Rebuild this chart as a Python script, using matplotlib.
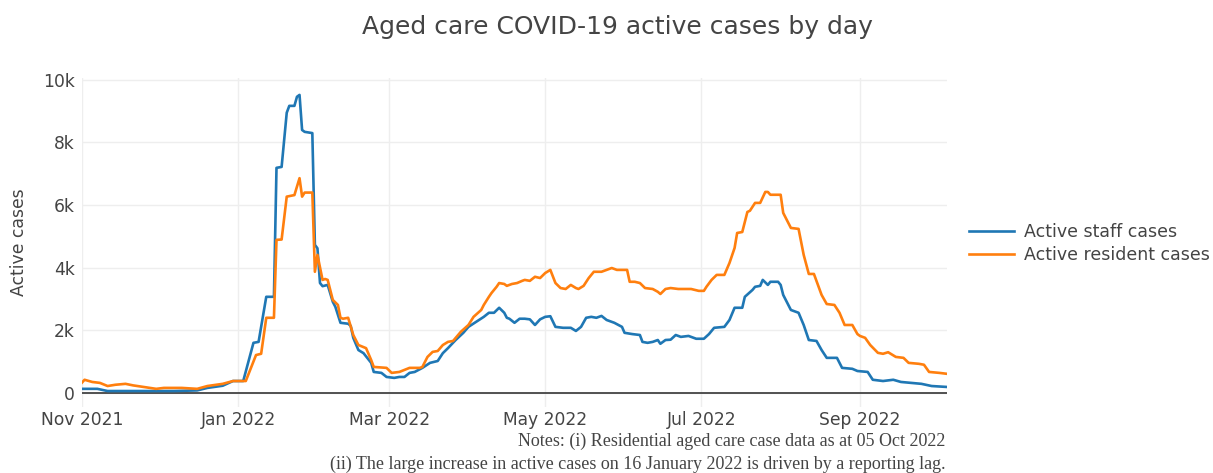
import matplotlib
matplotlib.use("Agg")
import matplotlib.pyplot as plt
import pandas as pd

title = "Aged care COVID-19 active cases by day"
ylabel = "Active cases"
staff_label = "Active staff cases"
resident_label = "Active resident cases"
notes = ["Notes: (i) Residential aged care case data as at 05 Oct 2022",
         "(ii) The large increase in active cases on 16 January 2022 is driven by a reporting lag."]

staff_dates = ["2021-11-01", "2021-11-07", "2021-11-11", "2021-12-07", "2021-12-16", "2021-12-20",
               "2021-12-26", "2021-12-30", "2022-01-03", "2022-01-07", "2022-01-09", "2022-01-12",
               "2022-01-15", "2022-01-16", "2022-01-18", "2022-01-20", "2022-01-21", "2022-01-23",
               "2022-01-24", "2022-01-25", "2022-01-26", "2022-01-27", "2022-01-30", "2022-01-31",
               "2022-02-01", "2022-02-02", "2022-02-03", "2022-02-05", "2022-02-07", "2022-02-08",
               "2022-02-10", "2022-02-13", "2022-02-14", "2022-02-15", "2022-02-17", "2022-02-19",
               "2022-02-22", "2022-02-23", "2022-02-26", "2022-02-28", "2022-03-03", "2022-03-05",
               "2022-03-07", "2022-03-09", "2022-03-11", "2022-03-14", "2022-03-17", "2022-03-20",
               "2022-03-22", "2022-03-24", "2022-03-27", "2022-03-30", "2022-04-01", "2022-04-04",
               "2022-04-07", "2022-04-09", "2022-04-11", "2022-04-13", "2022-04-15", "2022-04-16",
               "2022-04-17", "2022-04-19", "2022-04-21", "2022-04-23", "2022-04-25", "2022-04-27",
               "2022-04-29", "2022-05-01", "2022-05-03", "2022-05-05", "2022-05-08", "2022-05-11",
               "2022-05-13", "2022-05-15", "2022-05-17", "2022-05-19", "2022-05-21", "2022-05-23",
               "2022-05-25", "2022-05-28", "2022-05-31", "2022-06-01", "2022-06-04", "2022-06-07",
               "2022-06-08", "2022-06-10", "2022-06-12", "2022-06-14", "2022-06-15", "2022-06-17",
               "2022-06-19", "2022-06-21", "2022-06-23", "2022-06-26", "2022-06-29", "2022-07-02",
               "2022-07-04", "2022-07-06", "2022-07-10", "2022-07-12", "2022-07-14", "2022-07-17",
               "2022-07-18", "2022-07-21", "2022-07-22", "2022-07-24", "2022-07-25", "2022-07-27",
               "2022-07-28", "2022-07-31", "2022-08-01", "2022-08-02", "2022-08-05", "2022-08-08",
               "2022-08-10", "2022-08-12", "2022-08-15", "2022-08-17", "2022-08-19", "2022-08-23",
               "2022-08-25", "2022-08-29", "2022-08-31", "2022-09-04", "2022-09-06", "2022-09-10",
               "2022-09-14", "2022-09-17", "2022-09-21", "2022-09-25", "2022-09-29", "2022-10-05"]
staff_values = [130, 130, 60, 60, 80, 160,
                230, 380, 380, 1600, 1630, 3070,
                3070, 7190, 7220, 8950, 9170, 9170,
                9460, 9520, 8400, 8340, 8300, 4730,
                4620, 3510, 3410, 3450, 2910, 2750,
                2240, 2210, 2140, 1760, 1370, 1270,
                960, 670, 640, 510, 480, 510,
                510, 640, 670, 800, 960, 1020,
                1270, 1430, 1690, 1920, 2110, 2270,
                2430, 2560, 2560, 2720, 2560, 2400,
                2370, 2240, 2370, 2370, 2350, 2170,
                2350, 2430, 2450, 2110, 2080, 2080,
                1980, 2110, 2400, 2430, 2400, 2460,
                2330, 2240, 2110, 1920, 1880, 1850,
                1630, 1600, 1630, 1690, 1570, 1690,
                1700, 1850, 1790, 1820, 1730, 1730,
                1880, 2080, 2110, 2330, 2720, 2720,
                3070, 3290, 3390, 3420, 3610, 3450,
                3550, 3550, 3450, 3130, 2650, 2560,
                2170, 1690, 1660, 1370, 1120, 1120,
                800, 770, 700, 670, 420, 380,
                420, 350, 320, 290, 220, 190]

resident_dates = ["2021-11-01", "2021-11-02", "2021-11-05", "2021-11-08", "2021-11-11", "2021-11-14",
                  "2021-11-18", "2021-11-21", "2021-11-25", "2021-11-30", "2021-12-03", "2021-12-10",
                  "2021-12-16", "2021-12-20", "2021-12-26", "2021-12-30", "2022-01-04", "2022-01-08",
                  "2022-01-10", "2022-01-12", "2022-01-15", "2022-01-16", "2022-01-18", "2022-01-20",
                  "2022-01-23", "2022-01-25", "2022-01-26", "2022-01-27", "2022-01-30", "2022-01-31",
                  "2022-02-01", "2022-02-03", "2022-02-04", "2022-02-05", "2022-02-07", "2022-02-09",
                  "2022-02-10", "2022-02-11", "2022-02-13", "2022-02-15", "2022-02-17", "2022-02-20",
                  "2022-02-22", "2022-02-23", "2022-02-28", "2022-03-02", "2022-03-05", "2022-03-09",
                  "2022-03-13", "2022-03-14", "2022-03-16", "2022-03-18", "2022-03-20", "2022-03-22",
                  "2022-03-24", "2022-03-26", "2022-03-29", "2022-04-01", "2022-04-03", "2022-04-06",
                  "2022-04-07", "2022-04-09", "2022-04-10", "2022-04-12", "2022-04-13", "2022-04-15",
                  "2022-04-16", "2022-04-18", "2022-04-20", "2022-04-22", "2022-04-23", "2022-04-25",
                  "2022-04-27", "2022-04-29", "2022-05-01", "2022-05-03", "2022-05-05", "2022-05-07",
                  "2022-05-09", "2022-05-11", "2022-05-13", "2022-05-14", "2022-05-16", "2022-05-18",
                  "2022-05-20", "2022-05-23", "2022-05-25", "2022-05-27", "2022-05-29", "2022-05-31",
                  "2022-06-02", "2022-06-03", "2022-06-05", "2022-06-07", "2022-06-09", "2022-06-12",
                  "2022-06-14", "2022-06-15", "2022-06-17", "2022-06-19", "2022-06-22", "2022-06-27",
                  "2022-06-30", "2022-07-02", "2022-07-03", "2022-07-05", "2022-07-07", "2022-07-10",
                  "2022-07-12", "2022-07-14", "2022-07-15", "2022-07-17", "2022-07-19", "2022-07-20",
                  "2022-07-22", "2022-07-24", "2022-07-26", "2022-07-27", "2022-07-28", "2022-08-01",
                  "2022-08-02", "2022-08-05", "2022-08-08", "2022-08-10", "2022-08-12", "2022-08-14",
                  "2022-08-17", "2022-08-19", "2022-08-22", "2022-08-24", "2022-08-26", "2022-08-29",
                  "2022-08-31", "2022-09-01", "2022-09-03", "2022-09-05", "2022-09-08", "2022-09-10",
                  "2022-09-12", "2022-09-15", "2022-09-18", "2022-09-20", "2022-09-24", "2022-09-26",
                  "2022-09-28", "2022-10-02", "2022-10-05"]
resident_values = [330, 420, 350, 320, 220, 260,
                   290, 240, 190, 130, 160, 160,
                   130, 220, 290, 380, 380, 1210,
                   1250, 2400, 2400, 4890, 4900, 6270,
                   6320, 6860, 6270, 6400, 6400, 3870,
                   4410, 3610, 3640, 3610, 2970, 2810,
                   2400, 2370, 2400, 1850, 1530, 1430,
                   1050, 830, 800, 640, 670, 800,
                   800, 830, 1150, 1310, 1340, 1530,
                   1630, 1660, 1950, 2170, 2430, 2650,
                   2810, 3070, 3190, 3390, 3510, 3480,
                   3420, 3480, 3510, 3580, 3610, 3580,
                   3710, 3670, 3830, 3930, 3510, 3350,
                   3320, 3450, 3350, 3320, 3420, 3670,
                   3870, 3870, 3930, 3990, 3930, 3930,
                   3930, 3550, 3550, 3510, 3350, 3320,
                   3230, 3160, 3320, 3350, 3320, 3320,
                   3260, 3260, 3390, 3610, 3770, 3770,
                   4150, 4630, 5110, 5140, 5780, 5820,
                   6070, 6070, 6420, 6420, 6330, 6330,
                   5750, 5270, 5240, 4410, 3800, 3800,
                   3130, 2840, 2810, 2560, 2170, 2170,
                   1880, 1820, 1760, 1530, 1280, 1250,
                   1300, 1150, 1120, 960, 930, 900,
                   670, 640, 610]

y_ticks = [0, 2000, 4000, 6000, 8000, 10000]
y_tick_labels = ["0", "2k", "4k", "6k", "8k", "10k"]
x_ticks = ["2021-11-01", "2022-01-01", "2022-03-01", "2022-05-01", "2022-07-01", "2022-09-01"]
x_tick_labels = ["Nov 2021", "Jan 2022", "Mar 2022", "May 2022", "Jul 2022", "Sep 2022"]

plt.rcParams['font.family'] = ['DejaVu Sans']
text_color = "#444444"

fig = plt.figure(figsize=(12.13, 4.73), dpi=100)
ax = fig.add_axes([82 / 1213, 1 - 407 / 473, (947 - 82) / 1213, (407 - 78) / 473])

ax.plot(pd.to_datetime(staff_dates), staff_values, color="#1f77b4", lw=1.9, label=staff_label,
        solid_joinstyle="round")
ax.plot(pd.to_datetime(resident_dates), resident_values, color="#ff7f0e", lw=1.9, label=resident_label,
        solid_joinstyle="round")

ax.set_xlim(pd.Timestamp("2021-11-01"), pd.Timestamp("2022-10-05"))
ax.set_ylim(-450, 10060)
ax.set_yticks(y_ticks)
ax.set_yticklabels(y_tick_labels)
ax.set_xticks(pd.to_datetime(x_ticks))
ax.set_xticklabels(x_tick_labels)
ax.tick_params(axis="both", length=0, labelsize=12.3, colors=text_color)
ax.tick_params(axis="x", pad=3)
ax.tick_params(axis="y", pad=5)
for s in ax.spines.values():
    s.set_visible(False)
ax.grid(True, color="#eeeeee", lw=1)
ax.set_axisbelow(True)
ax.axhline(0, color="#444444", lw=1.3, zorder=1.5)

ax.set_ylabel(ylabel, fontsize=12.4, color=text_color)
ax.yaxis.set_label_coords(-0.063, 0.5)

fig.text(617 / 1213, 1 - 27 / 473, title, ha="center", va="center", fontsize=18, color=text_color)

leg = fig.legend(loc="upper left", bbox_to_anchor=(962 / 1213, 1 - 216 / 473), frameon=False,
                 fontsize=12.5, handlelength=2.6, handletextpad=0.55, labelspacing=0.3, borderaxespad=0)
for t in leg.get_texts():
    t.set_color(text_color)

fig.text(945 / 1213, 1 - 441 / 473, notes[0], ha="right", va="center", fontsize=13,
         family="Liberation Serif", color="#444444")
fig.text(945 / 1213, 1 - 464 / 473, notes[1], ha="right", va="center", fontsize=13,
         family="Liberation Serif", color="#444444")

fig.savefig("out.png", dpi=100, facecolor="white")
